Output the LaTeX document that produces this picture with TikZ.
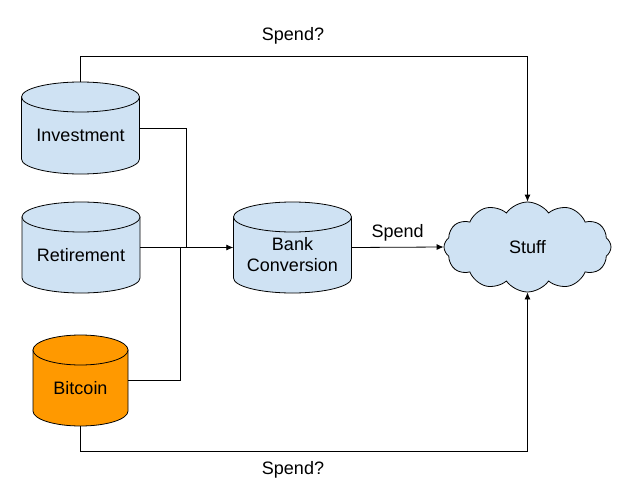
\documentclass[tikz,border=0pt]{standalone}
\usepackage{fontspec}
\setmainfont{Liberation Sans}
\usetikzlibrary{shapes.symbols,arrows.meta}
\definecolor{lblue}{HTML}{CFE2F3}
\definecolor{orng}{HTML}{FF9900}
% name, cx, cy, width, height, fill, text
\newcommand\dbcyl[7]{%
  \pgfmathsetmacro\crx{#4/2}%
  \pgfmathsetmacro\cL{#2-\crx}%
  \pgfmathsetmacro\cR{#2+\crx}%
  \pgfmathsetmacro\cT{#3-#5/2}%
  \pgfmathsetmacro\cB{#3+#5/2}%
  \pgfmathsetmacro\cyt{\cT+15}%
  \pgfmathsetmacro\cyb{\cB-15}%
  \pgfmathsetmacro\cyk{\cyb+0.5523*15}%
  \pgfmathsetmacro\cxl{#2-0.5523*\crx}%
  \pgfmathsetmacro\cxr{#2+0.5523*\crx}%
  \path[cylline, fill=#6] (\cL,\cyt) -- (\cL,\cyb) .. controls (\cL,\cyk) and (\cxl,\cB) .. (#2,\cB)
     .. controls (\cxr,\cB) and (\cR,\cyk) .. (\cR,\cyb) -- (\cR,\cyt) -- cycle;
  \path[cylline, fill=#6] (#2,\cyt) ellipse [x radius=\crx pt, y radius=15pt];
  \node[rectangle, minimum width=#4pt, minimum height=#5pt, inner sep=0pt,
        label={[align=center, yshift=-7.5pt]center:#7}] (#1) at (#2,#3) {};
}
\begin{document}
\begin{tikzpicture}[x=1pt,y=-1pt, font=\fontsize{18}{21}\selectfont,
 cylline/.style={draw, line width=0.8pt},
 link/.style={draw, line width=0.8pt},
 tip/.style={-{Latex[length=7pt,width=6pt]}}]
\useasboundingbox (0,0) rectangle (629,503);
\dbcyl{inv}{80.5}{128}{118}{92}{lblue}{Investment}
\dbcyl{ret}{81}{247.5}{118}{91}{lblue}{Retirement}
\dbcyl{btc}{80.5}{380.5}{95}{91}{orng}{Bitcoin}
\dbcyl{bank}{292.5}{247.5}{118}{91}{lblue}{Bank\\Conversion}
\node[cloud, draw, fill=lblue, line width=0.8pt, cloud puffs=12, cloud puff arc=110, cloud ignores aspect, minimum width=167pt, minimum height=90pt] (stuff) at (527.5,247) {Stuff};
\coordinate (j1) at (186,247);
\coordinate (j2) at (180,247);
\draw[link] (inv.east) -| (j1);
\draw[link] (btc.east) -| (j2);
\draw[link,tip] (ret.east) -- (bank.west);
\draw[link,tip] (bank.east) -- (stuff.west) node[midway, above=2pt] (sp) {Spend};
\draw[link,tip] (inv.north) -- ++(0,-25) -| (stuff.north);
\draw[link,tip] (btc.south) -- ++(0,25) -| (stuff.south);
\node (sq1) at (293,36) {Spend?};
\node (sq2) at (293,470) {Spend?};
\end{tikzpicture}
\end{document}
